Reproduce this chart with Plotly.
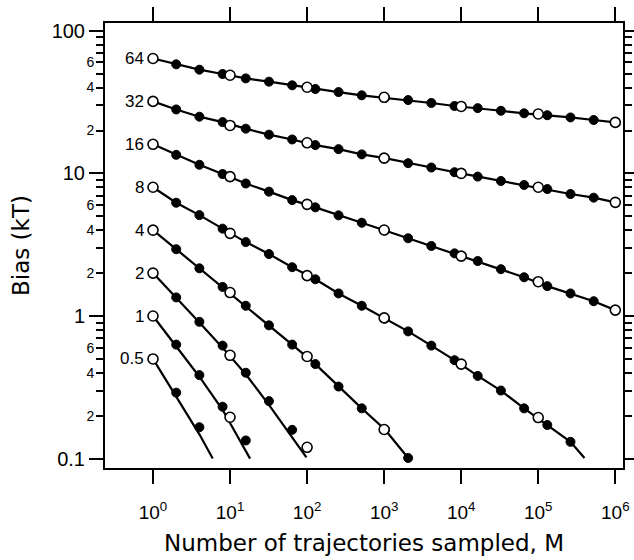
import numpy as np
import plotly.graph_objects as go

# ---------------- data ----------------
curve_labels = ["64", "32", "16", "8", "4", "2", "1", "0.5"]
start_values = [64, 32, 16, 8, 4, 2, 1, 0.5]

M_open = [1, 10, 100, 1000, 10000, 100000, 1000000]
M_filled = [2, 4, 8, 16, 32, 64, 128, 256, 512, 1024, 2048, 4096, 8192,
            16384, 32768, 65536, 131072, 262144, 524288]

open_64 = [64, 48.8, 40.2, 34.2, 29.5, 26.1, 22.8]
filled_64 = [58.2, 53.4, 49.8, 46.4, 44.0, 41.5, 39.1, 37.2, 35.3, 34.0, 32.7,
             31.2, 29.7, 28.7, 27.5, 26.4, 25.6, 24.7, 23.7]

open_32 = [32, 21.7, 16.4, 12.8, 10.0, 8.0, 6.27]
filled_32 = [28.1, 25.0, 22.9, 20.6, 18.7, 17.3, 15.8, 14.8, 13.6, 12.8, 11.8,
             11.0, 10.2, 9.5, 8.85, 8.3, 7.77, 7.17, 6.76]

open_16 = [16, 9.5, 6.07, 4.01, 2.63, 1.74, 1.10]
filled_16 = [13.5, 11.5, 9.9, 8.5, 7.45, 6.5, 5.78, 5.08, 4.51, 3.98, 3.51,
             3.1, 2.75, 2.43, 2.13, 1.87, 1.62, 1.44, 1.27]

open_8 = [8, 3.80, 1.92, 0.97, 0.46, 0.194]
filled_8 = [6.23, 5.1, 4.1, 3.30, 2.72, 2.2, 1.81, 1.44, 1.18, 0.96, 0.78,
            0.62, 0.49, 0.38, 0.30, 0.225, 0.172, 0.131]

open_4 = [4, 1.46, 0.52, 0.16]
filled_4 = [2.94, 2.16, 1.60, 1.18, 0.86, 0.63, 0.46, 0.32, 0.225, 0.16, 0.101]

open_2 = [2, 0.53, 0.12]
filled_2 = [1.35, 0.91, 0.62, 0.40, 0.253, 0.159]

open_1 = [1, 0.195]
filled_1 = [0.63, 0.385, 0.231, 0.134]

open_05 = [0.5]
filled_05 = [0.29, 0.166]

# theoretical curves (lines)
line_M_64 = [1] + M_filled + [1000000]
line_64 = [64] + filled_64 + [22.8]
line_M_32 = [1] + M_filled + [1000000]
line_32 = [32] + filled_32 + [6.27]
line_M_16 = [1] + M_filled + [1000000]
line_16 = [16] + filled_16 + [1.10]
line_M_8 = [1] + M_filled[:18] + [398000]
line_8 = [8] + filled_8 + [0.101]
line_M_4 = [1] + M_filled[:11]
line_4 = [4] + filled_4
line_M_2 = [1, 2, 4, 8, 16, 32, 64, 98]
line_2 = [2, 1.35, 0.9, 0.6, 0.39, 0.238, 0.14, 0.102]
line_M_1 = [1, 2, 4, 8, 18.2]
line_1 = [1, 0.61, 0.375, 0.22, 0.1]
line_M_05 = [1, 2, 4, 5.96]
line_05 = [0.5, 0.275, 0.148, 0.1]

series = [
    (line_M_64, line_64, filled_64, open_64),
    (line_M_32, line_32, filled_32, open_32),
    (line_M_16, line_16, filled_16, open_16),
    (line_M_8, line_8, filled_8, open_8),
    (line_M_4, line_4, filled_4, open_4),
    (line_M_2, line_2, filled_2, open_2),
    (line_M_1, line_1, filled_1, open_1),
    (line_M_05, line_05, filled_05, open_05),
]

x_tickvals = [1, 10, 100, 1000, 10000, 100000, 1000000]
x_ticktext = ["10<sup>%d</sup>" % i for i in range(7)]
y_tickvals = [0.1, 1, 10, 100]
y_ticktext = ["0.1", "1", "10", "100"]
y_minor_vals = [0.2, 0.3, 0.4, 0.5, 0.6, 0.7, 0.8, 0.9,
                2, 3, 4, 5, 6, 7, 8, 9,
                20, 30, 40, 50, 60, 70, 80, 90]
y_sub_vals = [0.2, 0.4, 0.6, 2, 4, 6, 20, 40, 60]
y_sub_text = ["2", "4", "6", "2", "4", "6", "2", "4", "6"]

# ---------------- figure ----------------
fig = go.Figure()
for lm, lv, fv, ov in series:
    fig.add_trace(go.Scatter(x=lm, y=lv, mode="lines",
                             line=dict(color="black", width=2.2),
                             showlegend=False, hoverinfo="skip"))
for lm, lv, fv, ov in series:
    fig.add_trace(go.Scatter(x=M_filled[:len(fv)], y=fv, mode="markers",
                             marker=dict(size=9, color="black",
                                         line=dict(color="black", width=1)),
                             showlegend=False))
for lm, lv, fv, ov in series:
    fig.add_trace(go.Scatter(x=M_open[:len(ov)], y=ov, mode="markers",
                             marker=dict(size=10, color="white",
                                         line=dict(color="black", width=1.6)),
                             showlegend=False))

# helper trace for the secondary (minor-label) axis
fig.add_trace(go.Scatter(x=[None], y=[None], yaxis="y3", mode="markers",
                         showlegend=False, hoverinfo="skip"))

for lab, v in zip(curve_labels, start_values):
    fig.add_annotation(x=np.log10(1), y=np.log10(v), xref="x", yref="y",
                       text=lab, showarrow=False, xanchor="right",
                       yanchor="middle", xshift=-7,
                       font=dict(family="Liberation Sans, Arial", size=17,
                                 color="black"))

tick_font = dict(family="Liberation Sans, Arial", size=19, color="black")
title_font = dict(family="DejaVu Sans", size=23, color="black")

fig.update_layout(
    width=634, height=560,
    margin=dict(l=105, r=11, t=23, b=92, autoexpand=False),
    plot_bgcolor="white", paper_bgcolor="white",
    xaxis=dict(type="log", range=[-0.623, 6.1], automargin=False,
               tickmode="array", tickvals=x_tickvals, ticktext=x_ticktext,
               ticks="outside", ticklen=14, tickwidth=2, tickcolor="black",
               ticklabelstandoff=12,
               showline=True, linewidth=2, linecolor="black", mirror="ticks",
               showgrid=False, zeroline=False, tickfont=tick_font,
               title=dict(text="Number of trajectories sampled, M",
                          font=title_font, standoff=13)),
    yaxis=dict(type="log", range=[-1.066, 2.055], automargin=False,
               tickmode="array", tickvals=y_tickvals, ticktext=y_ticktext,
               ticks="outside", ticklen=14, tickwidth=2, tickcolor="black",
               showline=True, linewidth=2, linecolor="black", mirror="ticks",
               showgrid=False, zeroline=False,
               tickfont=dict(family="Liberation Sans, Arial", size=20,
                             color="black"),
               minor=dict(tickmode="array", tickvals=y_minor_vals,
                          ticks="outside", ticklen=7, tickwidth=1.5,
                          tickcolor="black", showgrid=False),
               title=dict(text="Bias (kT)", font=title_font, standoff=16)),
    yaxis3=dict(type="log", range=[-1.066, 2.055], overlaying="y",
                side="left", anchor="x", automargin=False,
                tickmode="array", tickvals=y_sub_vals, ticktext=y_sub_text,
                ticks="outside", ticklen=7, tickwidth=1.5, tickcolor="black",
                showline=False, showgrid=False, zeroline=False,
                tickfont=dict(family="Liberation Sans, Arial", size=14,
                              color="black")),
)

fig.write_html("out.html")
